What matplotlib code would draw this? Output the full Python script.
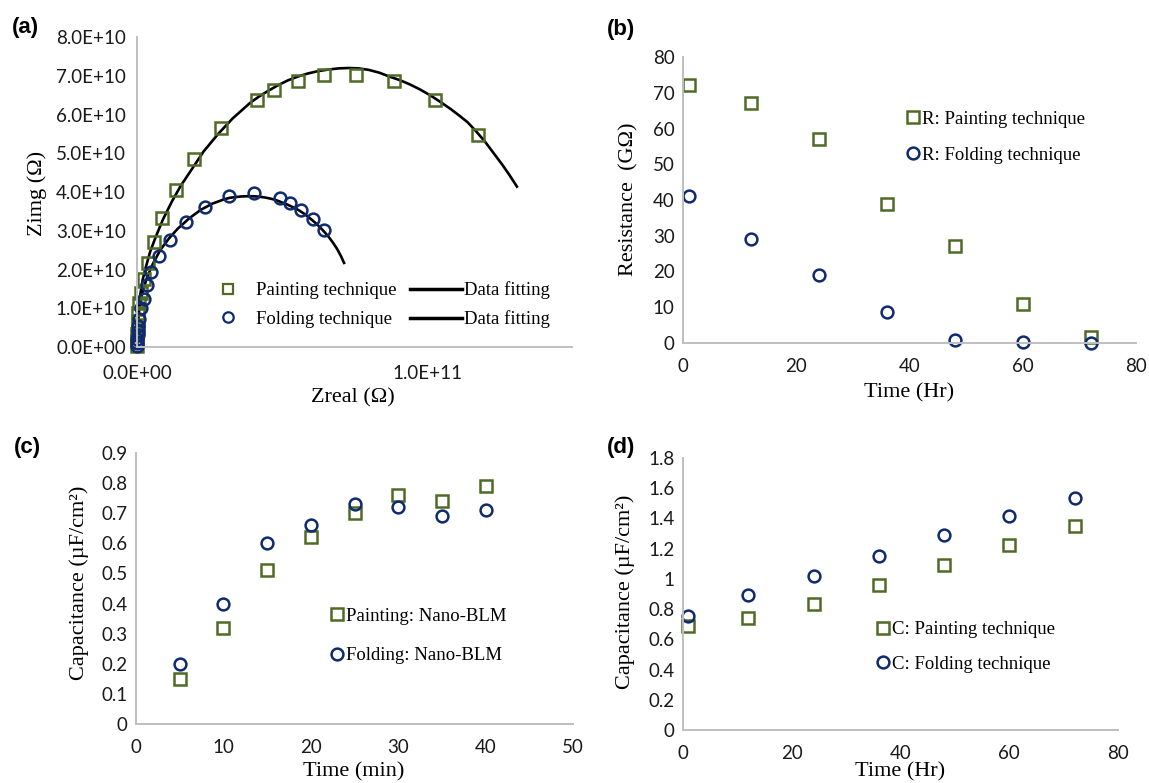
import matplotlib
matplotlib.use("Agg")
import matplotlib.pyplot as plt
from matplotlib.lines import Line2D

# ─── Data ────────────────────────────────────────────────────
# (a) Nyquist, x in 1e11 Ohm, y in 1e10 Ohm
paint_zre = [1.175, 1.028, 0.885, 0.755, 0.645, 0.556, 0.474, 0.414, 0.291, 0.198,
             0.136, 0.087, 0.060, 0.038, 0.023, 0.013, 0.008, 0.004, 0.003, 0.002,
             0.0015, 0.001, 0.0005]
paint_zim = [5.47, 6.37, 6.86, 7.03, 7.01, 6.86, 6.63, 6.37, 5.64, 4.85,
             4.04, 3.32, 2.70, 2.17, 1.76, 1.40, 1.14, 0.88, 0.67, 0.50,
             0.33, 0.15, 0.03]
fold_zre = [0.645, 0.606, 0.567, 0.529, 0.493, 0.405, 0.316, 0.236, 0.168, 0.115,
            0.077, 0.049, 0.033, 0.023, 0.014, 0.008, 0.005, 0.003, 0.002, 0.0015,
            0.001, 0.0005]
fold_zim = [3.01, 3.31, 3.54, 3.71, 3.84, 3.97, 3.89, 3.62, 3.22, 2.77,
            2.34, 1.93, 1.59, 1.25, 1.01, 0.71, 0.55, 0.42, 0.30, 0.20,
            0.10, 0.03]
paint_fit_x = [0.0, 0.002, 0.005, 0.010, 0.020, 0.030, 0.045, 0.065, 0.090, 0.12,
               0.15, 0.19, 0.23, 0.28, 0.33, 0.36, 0.39, 0.42, 0.45, 0.485,
               0.52, 0.555, 0.59, 0.625, 0.66, 0.695, 0.73, 0.765, 0.80, 0.835,
               0.87, 0.905, 0.94, 0.975, 1.01, 1.045, 1.08, 1.11, 1.14, 1.17,
               1.20, 1.23, 1.26, 1.285, 1.31]
paint_fit_y = [0.0, 0.5, 0.9, 1.3, 1.75, 2.05, 2.45, 2.85, 3.3, 3.75,
               4.15, 4.6, 5.05, 5.5, 5.9, 6.1, 6.3, 6.46, 6.6, 6.75,
               6.88, 6.98, 7.06, 7.12, 7.16, 7.19, 7.2, 7.19, 7.15, 7.08,
               6.98, 6.89, 6.78, 6.65, 6.5, 6.33, 6.15, 5.98, 5.8, 5.56,
               5.3, 5.0, 4.7, 4.43, 4.14]
fold_fit_x = [0.0, 0.002, 0.005, 0.01, 0.02, 0.035, 0.055, 0.08, 0.11, 0.14,
              0.18, 0.22, 0.26, 0.30, 0.32, 0.34, 0.36, 0.38, 0.40, 0.42,
              0.44, 0.46, 0.48, 0.50, 0.52, 0.54, 0.56, 0.58, 0.60, 0.62,
              0.64, 0.66, 0.675, 0.69, 0.703, 0.714]
fold_fit_y = [0.0, 0.45, 0.8, 1.1, 1.45, 1.8, 2.15, 2.5, 2.8, 3.05,
              3.32, 3.54, 3.7, 3.81, 3.85, 3.87, 3.885, 3.89, 3.89, 3.88,
              3.86, 3.83, 3.79, 3.73, 3.67, 3.6, 3.52, 3.42, 3.3, 3.17,
              3.02, 2.85, 2.7, 2.53, 2.35, 2.17]
a_xticks = [0.0, 1.0e11]
a_xticklabels = ["0.0E+00", "1.0E+11"]
a_yticks = [0, 1e10, 2e10, 3e10, 4e10, 5e10, 6e10, 7e10, 8e10]
a_yticklabels = ["0.0E+00", "1.0E+10", "2.0E+10", "3.0E+10", "4.0E+10",
                 "5.0E+10", "6.0E+10", "7.0E+10", "8.0E+10"]

# (b) resistance vs time
b_time = [1, 12, 24, 36, 48, 60, 72]
b_paint = [72.1, 67.0, 57.0, 38.8, 27.0, 10.9, 1.6]
b_fold = [41.0, 29.0, 19.0, 8.8, 0.7, 0.2, -0.1]

# (c) capacitance vs time (min)
c_time = [5, 10, 15, 20, 25, 30, 35, 40]
c_paint = [0.15, 0.32, 0.51, 0.62, 0.70, 0.76, 0.74, 0.79]
c_fold = [0.20, 0.40, 0.60, 0.66, 0.73, 0.72, 0.69, 0.71]
c_yticklabels = ["0", "0.1", "0.2", "0.3", "0.4", "0.5", "0.6", "0.7", "0.8", "0.9"]

# (d) capacitance vs time (Hr)
d_time = [1, 12, 24, 36, 48, 60, 72]
d_paint = [0.687, 0.738, 0.833, 0.958, 1.091, 1.223, 1.349]
d_fold = [0.757, 0.892, 1.018, 1.151, 1.288, 1.413, 1.535]
d_yticklabels = ["0", "0.2", "0.4", "0.6", "0.8", "1", "1.2", "1.4", "1.6", "1.8"]

# ─── Style ───────────────────────────────────────────────────
W, H = 1149, 783
GREEN = '#4f6b26'
BLUE = '#0f2a6e'
SPINE = '#bfbfbf'
TICK_FONT = 'Lato'
SERIF = 'Liberation Serif'
MS = 8.5
MEW = 1.8

plt.rcParams['font.family'] = ['Lato', 'DejaVu Sans']

fig = plt.figure(figsize=(W / 100, H / 100), dpi=100)


def add_axes(left, top, right, bottom):
    return fig.add_axes([left / W, 1 - bottom / H, (right - left) / W, (bottom - top) / H])


def style(ax, xpad, ypad):
    for s in ('top', 'right'):
        ax.spines[s].set_visible(False)
    for s in ('left', 'bottom'):
        ax.spines[s].set_color(SPINE)
        ax.spines[s].set_linewidth(1.4)
    ax.tick_params(length=0, labelsize=13.5, colors='#1a1a1a')
    ax.tick_params(axis='x', pad=xpad)
    ax.tick_params(axis='y', pad=ypad)
    for lab in ax.get_xticklabels() + ax.get_yticklabels():
        lab.set_family(TICK_FONT)


def label_at(ax, box, text_x, text_y, xpix, ypix):
    left, top, right, bottom = box
    ax.set_xlabel(text_x, family=SERIF, fontsize=16)
    ax.set_ylabel(text_y, family=SERIF, fontsize=16)
    ax.xaxis.set_label_coords((xpix[0] - left) / (right - left), (bottom - xpix[1]) / (bottom - top))
    ax.yaxis.set_label_coords((ypix[0] - left) / (right - left), (bottom - ypix[1]) / (bottom - top))
    ax.xaxis.label.set_va('center')
    ax.yaxis.label.set_va('center')


def legend_at(ax, handles, labels, x, y, **kw):
    opts = dict(loc='center left', bbox_to_anchor=(x / W, 1 - y / H),
                bbox_transform=fig.transFigure, frameon=False, borderpad=0,
                borderaxespad=0, prop={'family': SERIF, 'size': 13.5})
    opts.update(kw)
    return ax.legend(handles, labels, **opts)


def sq(ms=MS, mew=MEW):
    return Line2D([], [], ls='none', marker='s', ms=ms, mfc='none', mec=GREEN, mew=mew)


def ci(ms=MS, mew=MEW):
    return Line2D([], [], ls='none', marker='o', ms=ms, mfc='none', mec=BLUE, mew=mew)


# ─── (a) ─────────────────────────────────────────────────────
box_a = (137, 37, 572, 347)
ax_a = add_axes(*box_a)
ax_a.plot([v * 1e11 for v in paint_fit_x], [v * 1e10 for v in paint_fit_y], color='black', lw=1.9)
ax_a.plot([v * 1e11 for v in fold_fit_x], [v * 1e10 for v in fold_fit_y], color='black', lw=1.9)
ax_a.plot([v * 1e11 for v in paint_zre], [v * 1e10 for v in paint_zim], ls='none', marker='s',
          ms=MS, mfc='none', mec=GREEN, mew=MEW, clip_on=False)
ax_a.plot([v * 1e11 for v in fold_zre], [v * 1e10 for v in fold_zim], ls='none', marker='o',
          ms=MS, mfc='none', mec=BLUE, mew=MEW, clip_on=False)
ax_a.set_xlim(0, 1.5e11)
ax_a.set_ylim(0, 8e10)
ax_a.set_xticks(a_xticks, a_xticklabels)
ax_a.set_yticks(a_yticks, a_yticklabels)
style(ax_a, 13, 8)
label_at(ax_a, box_a, 'Zreal (Ω)', 'Zimg (Ω)', (353, 398), (37, 193))
line_h = Line2D([], [], color='black', lw=2.5)
legend_at(ax_a, [sq(7.5, 1.6), ci(7.5, 1.6), line_h, line_h],
          ['Painting technique', 'Folding technique', 'Data fitting', 'Data fitting'],
          202, 305, ncol=2, handlelength=2.75, handletextpad=0.12, columnspacing=0.75,
          labelspacing=0.6)

# ─── (b) ─────────────────────────────────────────────────────
box_b = (683, 57, 1136, 343)
ax_b = add_axes(*box_b)
ax_b.plot(b_time, b_paint, ls='none', marker='s', ms=MS, mfc='none', mec=GREEN, mew=MEW, clip_on=False)
ax_b.plot(b_time, b_fold, ls='none', marker='o', ms=MS, mfc='none', mec=BLUE, mew=MEW, clip_on=False)
ax_b.set_xlim(0, 80)
ax_b.set_ylim(0, 80)
ax_b.set_xticks([0, 20, 40, 60, 80])
ax_b.set_yticks([0, 10, 20, 30, 40, 50, 60, 70, 80])
style(ax_b, 11, 6)
label_at(ax_b, box_b, 'Time (Hr)', 'Resistance  (GΩ)', (909, 393), (629, 199))
legend_at(ax_b, [sq(), ci()], ['R: Painting technique', 'R: Folding technique'],
          905, 137, handlelength=0.8, handletextpad=0.1, labelspacing=1.0)

# ─── (c) ─────────────────────────────────────────────────────
box_c = (136, 453, 573, 724)
ax_c = add_axes(*box_c)
ax_c.plot(c_time, c_paint, ls='none', marker='s', ms=MS, mfc='none', mec=GREEN, mew=MEW, clip_on=False)
ax_c.plot(c_time, c_fold, ls='none', marker='o', ms=MS, mfc='none', mec=BLUE, mew=MEW, clip_on=False)
ax_c.set_xlim(0, 50)
ax_c.set_ylim(0, 0.9)
ax_c.set_xticks([0, 10, 20, 30, 40, 50])
ax_c.set_yticks([i / 10 for i in range(10)], c_yticklabels)
style(ax_c, 11, 6)
label_at(ax_c, box_c, 'Time (min)', 'Capacitance (µF/cm²)', (354, 772), (79, 583))
legend_at(ax_c, [sq(), ci()], ['Painting: Nano-BLM', 'Folding: Nano-BLM'],
          329, 636, handlelength=0.8, handletextpad=0.1, labelspacing=1.2)

# ─── (d) ─────────────────────────────────────────────────────
box_d = (683, 458, 1118, 730)
ax_d = add_axes(*box_d)
ax_d.plot(d_time, d_paint, ls='none', marker='s', ms=MS, mfc='none', mec=GREEN, mew=MEW, clip_on=False)
ax_d.plot(d_time, d_fold, ls='none', marker='o', ms=MS, mfc='none', mec=BLUE, mew=MEW, clip_on=False)
ax_d.set_xlim(0, 80)
ax_d.set_ylim(0, 1.8)
ax_d.set_xticks([0, 20, 40, 60, 80])
ax_d.set_yticks([i * 0.2 for i in range(10)], d_yticklabels)
style(ax_d, 11, 6)
label_at(ax_d, box_d, 'Time (Hr)', 'Capacitance (µF/cm²)', (900, 772), (625, 592))
legend_at(ax_d, [sq(), ci()], ['C: Painting technique', 'C: Folding technique'],
          875, 647, handlelength=0.8, handletextpad=0.1, labelspacing=0.95)

# ─── Panel letters ───────────────────────────────────────────
for txt, x, y in [('(a)', 25, 28), ('(b)', 621, 30), ('(c)', 27, 447), ('(d)', 621, 447)]:
    fig.text(x / W, 1 - y / H, txt, family='Liberation Sans', weight='bold', fontsize=16,
             ha='center', va='center')

fig.savefig('out.png', dpi=100)
